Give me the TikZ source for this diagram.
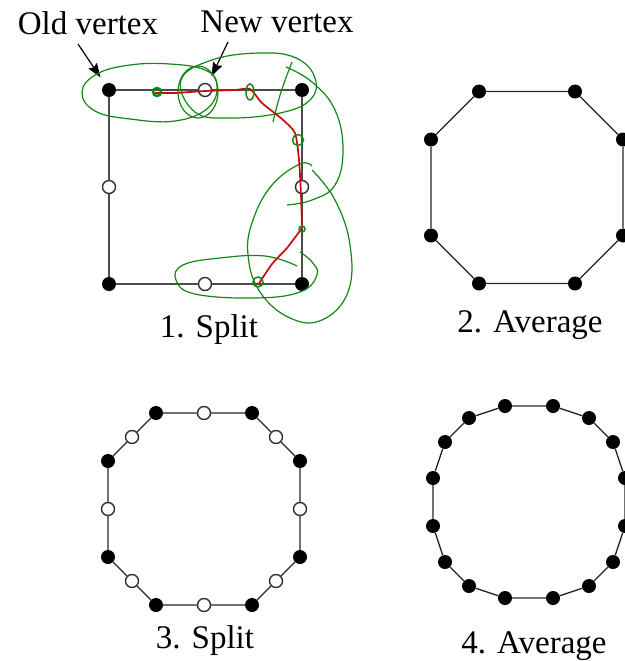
\documentclass[tikz,border=0pt]{standalone}
\usepackage{fontspec}
\setmainfont{Liberation Serif}
\usetikzlibrary{arrows.meta}
\definecolor{penGreen}{RGB}{20,135,20}
\definecolor{penRed}{RGB}{200,10,10}

\begin{document}
\begin{tikzpicture}[x=1pt, y=-1pt,
  olddot/.style={circle, fill=black, inner sep=0pt, minimum size=14pt},
  newdot/.style={circle, draw=black!80, fill=white, line width=1.4pt, inner sep=0pt, minimum size=13pt},
  edge/.style={line width=1.3pt, black!85},
  square/.style={line width=1.7pt, black!70},
  pointer/.style={-{Stealth[length=14pt, width=10pt, inset=2pt]}, line width=1.2pt, shorten >=8pt},
  caption/.style={anchor=base, font=\fontsize{33}{38}\selectfont},
  note/.style={penGreen, line width=1.2pt},
  trace/.style={penRed, line width=1.7pt}
]
  \useasboundingbox (0,0) rectangle (624,661);

  % 1. Split
  \node[olddot] (o1) at (109,90) {};
  \node[newdot] (n1) at (205,90) {};
  \node[olddot] (o2) at (302,90) {};
  \node[newdot] (n2) at (302,187) {};
  \node[olddot] (o3) at (302,284) {};
  \node[newdot] (n3) at (205,284) {};
  \node[olddot] (o4) at (109,284) {};
  \node[newdot] (n4) at (109,187) {};
  \draw[square] (o1) -- (n1) -- (o2) -- (n2) -- (o3) -- (n3) -- (o4) -- (n4) -- (o1);

  \node[caption] (oldlbl) at (88,35) {Old vertex};
  \node[caption] (newlbl) at (277,33) {New vertex};
  \coordinate (oldtail) at (78,44);
  \coordinate (newtail) at (228,42);
  \draw[pointer] (oldtail) -- (o1);
  \draw[pointer] (newtail) -- (n1);
  \node[caption] (split1) at (209,337) {1. Split};

  % hand-drawn marks
  \draw[note] plot[smooth cycle, tension=0.7] coordinates
    {(82,92) (97,74) (130,65) (170,64) (205,70) (217,85) (208,108) (175,121) (130,119) (95,111)};
  \draw[note] (198,92) ellipse (20 and 26);
  \draw[note] plot[smooth cycle, tension=0.7] coordinates
    {(181,80) (212,60) (260,53) (296,58) (315,78) (310,100) (280,113) (230,118) (195,112)};
  \draw[note] plot[smooth, tension=0.7] coordinates {(273,122) (281,92) (292,62)};
  \draw[note] plot[smooth, tension=0.7] coordinates
    {(286,67) (312,82) (335,110) (343,150) (335,185) (312,200) (287,205)};
  \draw[note] plot[smooth, tension=0.7] coordinates
    {(312,166) (300,164) (272,185) (253,220) (248,255) (260,292) (290,318) (322,320) (348,292) (350,245) (335,200) (312,170)};
  \draw[note] plot[smooth, tension=0.7] coordinates
    {(297,266) (265,256) (220,258) (183,265) (176,280) (195,294) (255,298) (300,292) (317,275) (312,262) (300,252)};
  \draw[trace] plot[smooth, tension=0.4] coordinates
    {(155,93) (175,93) (205,91) (235,90) (250,89) (262,103) (282,119) (295,133) (299,160) (301,195) (302,228)};
  \draw[trace] plot[smooth, tension=0.4] coordinates
    {(302,228) (287,248) (272,264) (258,285)};
  \draw[note, line width=2.5pt] (157,92) circle (4);
  \draw[note, line width=1.5pt] (250,92) ellipse (4 and 8);
  \draw[note, line width=1.5pt] (298,140) circle (5.5);
  \draw[note, line width=1.5pt] (302,229) circle (3);
  \draw[note, line width=1.5pt] (258,282) circle (5);

  % 2. Average
  \node[olddot] (a1) at (479,91.5) {};
  \node[olddot] (a2) at (575,91.5) {};
  \node[olddot] (a3) at (623,139.5) {};
  \node[olddot] (a4) at (623,235.5) {};
  \node[olddot] (a5) at (575,283.5) {};
  \node[olddot] (a6) at (479,283.5) {};
  \node[olddot] (a7) at (431,235.5) {};
  \node[olddot] (a8) at (431,139.5) {};
  \draw[edge] (a1) -- (a2) -- (a3) -- (a4) -- (a5) -- (a6) -- (a7) -- (a8) -- (a1);
  \node[caption] (avg2) at (530,332) {2. Average};

  % 3. Split
  \node[olddot] (s1) at (156,413) {};
  \node[newdot] (m1) at (204,413) {};
  \node[olddot] (s2) at (252,413) {};
  \node[newdot] (m2) at (276,437) {};
  \node[olddot] (s3) at (300,461) {};
  \node[newdot] (m3) at (300,509) {};
  \node[olddot] (s4) at (300,557) {};
  \node[newdot] (m4) at (276,581) {};
  \node[olddot] (s5) at (252,605) {};
  \node[newdot] (m5) at (204,605) {};
  \node[olddot] (s6) at (156,605) {};
  \node[newdot] (m6) at (132,581) {};
  \node[olddot] (s7) at (108,557) {};
  \node[newdot] (m7) at (108,509) {};
  \node[olddot] (s8) at (108,461) {};
  \node[newdot] (m8) at (132,437) {};
  \draw[edge] (s1) -- (m1) -- (s2) -- (m2) -- (s3) -- (m3) -- (s4) -- (m4)
    -- (s5) -- (m5) -- (s6) -- (m6) -- (s7) -- (m7) -- (s8) -- (m8) -- (s1);
  \node[caption] (split3) at (205,648) {3. Split};

  % 4. Average
  \node[olddot] (b1) at (505,406) {};
  \node[olddot] (b2) at (553,406) {};
  \node[olddot] (b3) at (589,418) {};
  \node[olddot] (b4) at (613,442) {};
  \node[olddot] (b5) at (625,478) {};
  \node[olddot] (b6) at (625,526) {};
  \node[olddot] (b7) at (613,562) {};
  \node[olddot] (b8) at (589,586) {};
  \node[olddot] (b9) at (553,598) {};
  \node[olddot] (b10) at (505,598) {};
  \node[olddot] (b11) at (469,586) {};
  \node[olddot] (b12) at (445,562) {};
  \node[olddot] (b13) at (433,526) {};
  \node[olddot] (b14) at (433,478) {};
  \node[olddot] (b15) at (445,442) {};
  \node[olddot] (b16) at (469,418) {};
  \draw[edge] (b1) -- (b2) -- (b3) -- (b4) -- (b5) -- (b6) -- (b7) -- (b8)
    -- (b9) -- (b10) -- (b11) -- (b12) -- (b13) -- (b14) -- (b15) -- (b16) -- (b1);
  \node[caption] (avg4) at (534,653) {4. Average};
\end{tikzpicture}
\end{document}
